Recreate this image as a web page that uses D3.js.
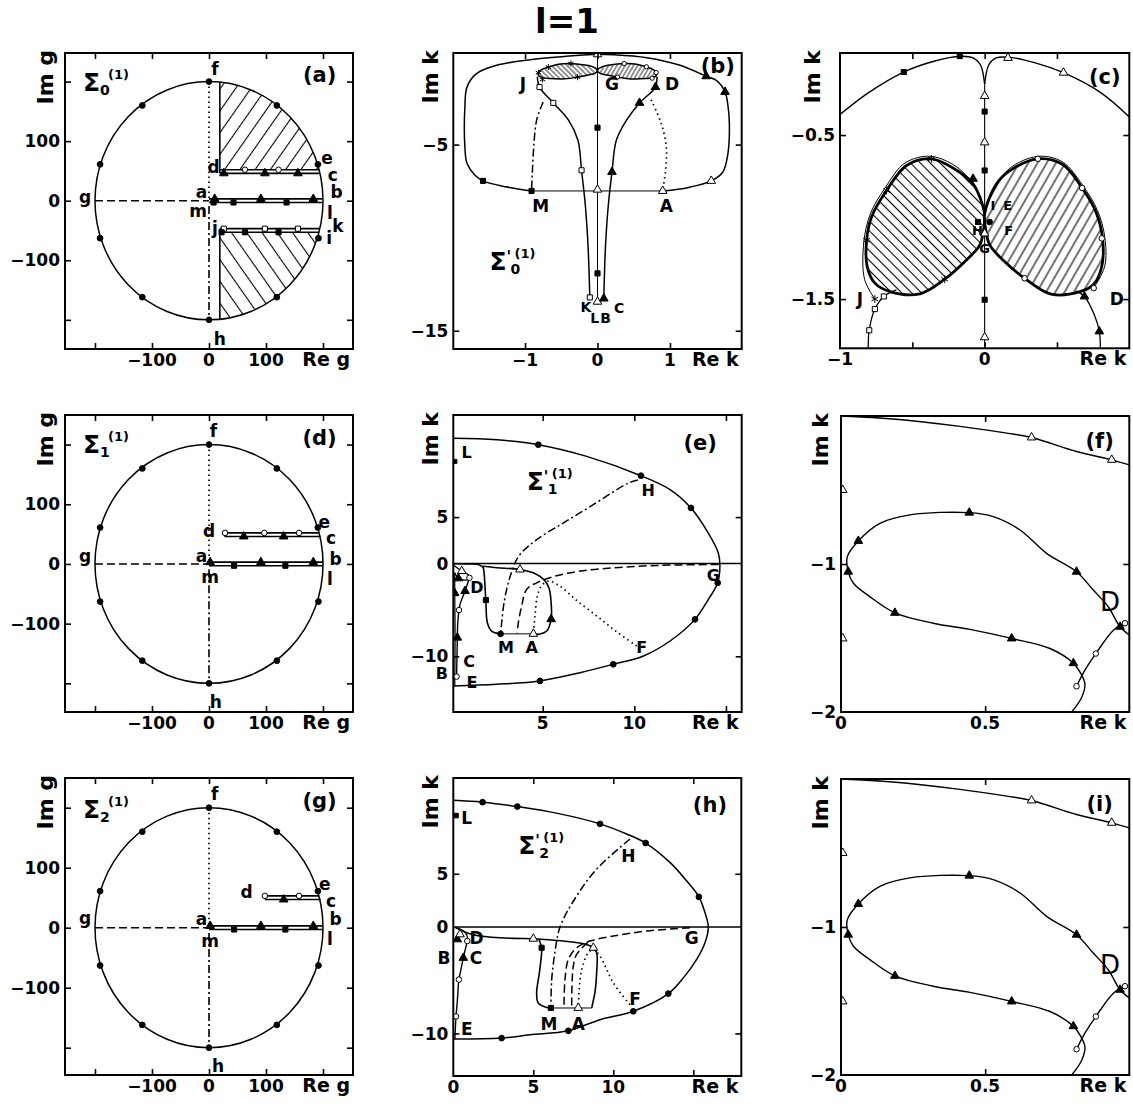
<!DOCTYPE html>
<html>
<head>
<meta charset="utf-8">
<script src="https://cdn.jsdelivr.net/npm/d3@7"></script>
<style>
  body { margin: 0; background: #fff; }
  svg text { font-family: "DejaVu Sans", sans-serif; font-weight: bold; fill: #000; }
</style>
</head>
<body>
<script>
// ================= data =================
const titleText = "l=1";

// ---- complex g-plane (panels a, d, g) ----
const gTicks = [-200, -100, 0, 100, 200];
const gTickLabels = [-100, 0, 100];
const gRadius = 200;
const gCircleDots = [[0, 200], [119, 160], [191, 61], [192, -63], [119, -162], [0, -200], [-117, -162], [-191, -63], [-191, 61], [-117, 160]];
const gDottedFA = [[0, 200], [0, 4]];
const gDashDotMH = [[0, -9], [0, -200]];
const gDashedGA = [[-200, 0], [0, 0]];

// panel (a): horizontal cuts
const aLineD = [[19, 52], [193, 52]];
const aLineDRings = [[63, 52], [122, 52]];
const aLineC = [[19, 46], [195, 46]];
const aLineCTris = [[26, 46], [98, 46], [156, 46]];
const aLineB = [[0, 3], [200, 3]];
const aLineBTris = [[10, 3], [91, 3], [183, 3]];
const aLineL = [[0, -3], [200, -3]];
const aLineLSquares = [[8, -3], [43, -3], [136, -3]];
const aLineK = [[19, -47], [194, -47]];
const aLineKOpenSq = [[26, -47], [98, -47], [156, -47]];
const aLineJ = [[19, -53], [193, -53]];
const aLineJSquares = [[22, -53], [63, -53], [122, -53]];
const aHatchEdgeUp = [[19, 199], [19, 46]];
const aHatchEdgeDown = [[19, -47], [19, -199]];
const aHatchUpperCorner = [19, 52];
const aHatchLowerCorner = [19, -53];
const aLabels = [["f", 10.5, 210.6], ["g", -217.5, -4.5], ["h", 19, -243], ["a", -13, 3.9], ["d", 8, 47],
  ["m", -19, -28], ["j", 10.5, -56.6], ["e", 207, 62], ["c", 217, 33], ["b", 224, 4],
  ["l", 212, -30], ["k", 226, -53.3], ["i", 211, -73]];

// panel (d)
const dLineD = [[27, 52], [193, 52]];
const dLineDRings = [[28, 52], [97, 52], [158, 52]];
const dLineC = [[27, 46], [196, 46]];
const dLineCTris = [[61, 46], [131, 46]];
const dLineB = [[0, 3], [200, 3]];
const dLineBTris = [[2, 3], [91, 3], [183, 3]];
const dLineL = [[0, -3], [200, -3]];
const dLineLSquares = [[44, -3], [134, -3]];
const dLabels = [["f", 8, 213], ["g", -217.5, 3.4], ["h", 12, -241], ["a", -13, 3.9], ["m", 2, -32],
  ["d", 0, 45.7], ["e", 202, 60], ["c", 214, 33], ["b", 222, -2], ["l", 212, -35]];

// panel (g)
const gpLineD = [[98, 53], [193, 53]];
const gpLineDRings = [[98, 53], [158, 53]];
const gpLineC = [[98, 47], [196, 47]];
const gpLineCTris = [[131, 47]];
const gpLineB = [[0, 3], [200, 3]];
const gpLineBTris = [[2, 3], [91, 3], [183, 3]];
const gpLineL = [[0, -3], [200, -3]];
const gpLineLSquares = [[44, -3], [134, -3]];
const gpLabels = [["f", 10, 213], ["g", -217.5, 6], ["h", 16, -240], ["a", -13, 4.5], ["m", 2, -31.7],
  ["d", 66, 49], ["e", 203, 63], ["c", 214, 35], ["b", 222, 4.5], ["l", 212, -28]];

// ---- panel (b): k-plane, Sigma'_0 ----
const bTicksX = [-1, 0, 1], bLabelsX = [-1, 0, 1];
const bTicksY = [-5, -15], bLabelsY = [-5, -15];
const bOuterRight = [[0, -0.15], [0.22, -0.17], [0.68, -0.33], [1.14, -0.74], [1.50, -1.33], [1.64, -1.55], [1.76, -2.17],
  [1.80, -2.9], [1.82, -3.87], [1.80, -5.48], [1.73, -6.47], [1.57, -6.95], [1.26, -7.3], [0.9, -7.49]];
const bOuterBase = [[0.9, -7.49], [-0.91, -7.49]];
const bOuterLeft = [[-0.91, -7.49], [-1.26, -7.27], [-1.58, -6.95], [-1.69, -6.65], [-1.80, -6.02], [-1.83, -5.13],
  [-1.83, -2.98], [-1.80, -1.9], [-1.67, -1.19], [-1.39, -0.74], [-0.93, -0.44], [-0.43, -0.26], [0, -0.15]];
const bOuterSquares = [[-1.58, -6.95], [-0.91, -7.49]];
const bOuterOpenTris = [[0.9, -7.49], [1.57, -6.95]];
const bOuterTris = [[1.76, -2.17], [1.50, -1.33]];
const bAxisLine = [[0, 0], [0, -13.6]];
const bAxisOpenTris = [[0, -0.15], [0, -7.42], [0, -13.44]];
const bAxisSquares = [[0, -4.09], [0, -11.92]];
const bFunnelRight = [[0.82, -1.35], [0.80, -1.91], [0.58, -2.76], [0.40, -3.69], [0.26, -4.77], [0.20, -6.47], [0.147, -8.35], [0.11, -10.49], [0.087, -13.27]];
const bFunnelRightTris = [[0.80, -1.91], [0.58, -2.76], [0.20, -6.47], [0.087, -13.27]];
const bFunnelLeft = [[-0.83, -1.35], [-0.80, -1.91], [-0.61, -2.76], [-0.40, -3.69], [-0.27, -4.77], [-0.22, -6.38], [-0.166, -8.35], [-0.13, -10.49], [-0.106, -13.21]];
const bFunnelLeftOpenSq = [[-0.80, -1.91], [-0.61, -2.76], [-0.22, -6.38], [-0.106, -13.21]];
const bDottedDA = [[0.74, -2.6], [0.88, -3.87], [0.95, -5.13], [0.94, -6.38], [0.9, -7.45]];
const bDashDotJM = [[-0.75, -2.71], [-0.84, -3.69], [-0.88, -5.13], [-0.9, -6.56], [-0.91, -7.45]];
const bLabels = [["J", -1.03, -2.09], ["G", 0.2, -2.09], ["D", 1.03, -2.09], ["M", -0.785, -8.62], ["A", 0.95, -8.62]];
const bLabelsBottom = [["K", -0.16, -13.99], ["L", -0.04, -14.6], ["B", 0.11, -14.6], ["C", 0.3, -14.07]];

// ---- panel (c): enlarged top of Sigma'_0 ----
const cTicksX = [-0.5, 0, 0.5], cLabelsX = [-1, 0];
const cTicksY = [-0.5, -1.5], cLabelsY = [-0.5, -1.5];
const cTopLeft = [[-1, -0.375], [-0.8, -0.24], [-0.56, -0.116], [-0.35, -0.05], [-0.17, -0.02], [-0.08, -0.03], [-0.03, -0.07], [0, -0.19]];
const cTopRight = [[0, -0.19], [0.03, -0.07], [0.08, -0.03], [0.16, -0.025], [0.35, -0.06], [0.545, -0.12], [0.8, -0.24], [1, -0.39]];
const cTopSquares = [[-0.559, -0.116], [-0.172, -0.019]];
const cTopOpenTris = [[0.161, -0.03], [0.545, -0.12]];
const cAxisLine = [[0, -0.19], [0, -1.8]];
const cAxisOpenTris = [[0, -0.262], [0, -0.545], [0, -1.733]];
const cAxisSquares = [[0, -0.357], [0, -0.716], [0, -1.504]];
const cLobeLeft = [[0, -0.98], [-0.08, -0.797], [-0.172, -0.727], [-0.368, -0.645], [-0.54, -0.686], [-0.678, -0.838],
  [-0.782, -0.999], [-0.816, -1.141], [-0.812, -1.302], [-0.759, -1.403], [-0.655, -1.454], [-0.448, -1.468],
  [-0.276, -1.379], [-0.126, -1.262], [-0.034, -1.171], [-0.008, -1.08]];
const cLobeRight = [[0, -0.98], [0.08, -0.8], [0.17, -0.72], [0.368, -0.645], [0.54, -0.68], [0.674, -0.823],
  [0.77, -0.97], [0.815, -1.13], [0.81, -1.3], [0.754, -1.41], [0.66, -1.455], [0.46, -1.47],
  [0.276, -1.373], [0.13, -1.265], [0.035, -1.17], [0.008, -1.08]];
const cLobeLeftOuter = [[-0.759, -1.5], [-0.83, -1.38], [-0.835, -1.15], [-0.79, -0.98], [-0.69, -0.825], [-0.55, -0.67], [-0.37, -0.63], [-0.17, -0.71], [-0.05, -0.85], [0, -0.98]];
const cLobeRightOuter = [[0.754, -1.433], [0.83, -1.3], [0.83, -1.12], [0.78, -0.96], [0.68, -0.81], [0.54, -0.665], [0.37, -0.63], [0.17, -0.705], [0.05, -0.85], [0, -0.98]];
const cLobeLeftStars = [[-0.368, -0.645], [-0.678, -0.838], [-0.816, -1.141], [-0.276, -1.379], [-0.759, -1.5]];
const cLobeLeftTris = [[-0.08, -0.767]];
const cLobeRightRings = [[0.368, -0.645], [0.674, -0.823], [0.81, -1.13], [0.276, -1.373], [0.754, -1.433]];
const cFunnelLeft = [[-0.61, -1.444], [-0.697, -1.484], [-0.759, -1.561], [-0.798, -1.69], [-0.805, -1.8]];
const cFunnelLeftOpenSq = [[-0.697, -1.484], [-0.759, -1.561], [-0.798, -1.69]];
const cFunnelRight = [[0.63, -1.45], [0.69, -1.484], [0.76, -1.6], [0.793, -1.697], [0.8, -1.8]];
const cFunnelRightTris = [[0.69, -1.484], [0.793, -1.697]];
const cCenterSquares = [[-0.046, -1.03]];
const cCenterDots = [[0.034, -1.03]];
const cCenterOpenTris = [[0, -1.1]];
const cLabelsSmall = [["I", 0.057, -0.959], ["E", 0.159, -0.959], ["H", -0.05, -1.11], ["F", 0.166, -1.11], ["G", 0, -1.22]];
const cLabelsBig = [["J", -0.862, -1.534], ["D", 0.914, -1.534]];

// ---- panel (e): Sigma'_1 ----
const eTicksX = [5, 10, 15], eLabelsX = [5, 10];
const eTicksY = [5, -10], eLabelsY = [5, 0, -10];
const eOuter = [[0.05, 13.5], [2.49, 13.33], [4.76, 12.8], [7.4, 11.54], [10.36, 9.46], [11.95, 7.96], [13.09, 5.99],
  [14.03, 3.3], [14.58, 1.15], [14.67, -0.11], [14.55, -2.08], [14.04, -3.87], [13.31, -6.02], [11.95, -8.35],
  [10.5, -9.96], [8.85, -10.86], [7.04, -11.76], [4.85, -12.65], [2.49, -13.01], [0.05, -13.19]];
const eOuterDots = [[4.76, 12.8], [10.36, 9.46], [13.09, 5.99], [14.55, -2.08], [13.31, -6.02], [8.85, -10.86], [4.85, -12.65]];
const eZero = [[0, 0], [16, 0]];
const eDashDotHM = [[10.2, 9.0], [9.67, 8.67], [7.76, 6.34], [6.13, 4.37], [4.67, 2.58], [3.76, 0.97], [3.49, 0.07],
  [3.12, -2.08], [2.89, -4.23], [2.76, -6.38], [2.70, -7.46]];
const eDashedG = [[14.6, -0.1], [12.5, -0.15], [10.68, -0.25], [8.85, -0.47], [7.04, -0.82], [5.6, -1.4], [4.67, -2.08],
  [4.12, -2.8], [3.85, -4.59], [3.67, -6.38], [3.61, -7.46]];
const eDottedFA = [[10.13, -8.89], [9.0, -7.3], [7.95, -5.66], [6.8, -3.9], [5.95, -2.44], [5.31, -1.9], [4.9, -2.5],
  [4.7, -3.6], [4.58, -5.66], [4.49, -7.5]];
const eBoxLeft = [[0.1, -0.02], [1.0, -0.05], [1.55, -0.15], [1.74, -0.4], [1.8, -1.0], [1.85, -2.44], [1.9, -4.23],
  [1.98, -6.38], [2.21, -7.28], [2.7, -7.58]];
const eBoxBase = [[2.7, -7.58], [4.49, -7.58]];
const eBoxRight = [[4.49, -7.58], [4.85, -7.6], [5.22, -7.28], [5.46, -6.0], [5.46, -4.23], [5.35, -2.7], [5.1, -1.8],
  [4.6, -1.1], [3.76, -0.65], [2.5, -0.45], [1.74, -0.3]];
const eBoxDots = [[2.7, -7.58]];
const eBoxOpenTris = [[4.49, -7.58], [3.76, -0.65]];
const eBoxTris = [[5.46, -6.0]];
const eBoxSquares = [[1.9, -3.94]];
const eLeftCurve = [[1.0, -1.54], [0.76, -2.97], [0.5, -4.3], [0.43, -5.02], [0.36, -6.5], [0.34, -7.99], [0.32, -10], [0.3, -12.18]];
const eLeftRings = [[1.0, -1.54], [0.43, -5.02], [0.3, -12.18]];
const eLeftTris = [[0.76, -2.97], [0.34, -7.99], [0.2, -3.2]];
const eSmallLoop = [[0.15, -0.2], [0.58, -0.82], [0.95, -1.25], [0.9, -1.75], [0.4, -1.6], [0.2, -1.0]];
const eSmallLoopOpenTris = [[0.58, -0.82]];
const eSmallLoopTris = [[0.4, -1.6]];
const eLeftEdge = [[0.2, -1.0], [0.2, -3.2], [0.22, -8], [0.2, -13.19]];
const eLMark = [[0.21, 11.0]];
const eLabels = [["L", 0.85, 11.37], ["H", 10.76, 7.24], ["G", 14.31, -1.9], ["F", 10.4, -9.6], ["M", 3.0, -9.6],
  ["A", 4.4, -9.6], ["D", 1.41, -3.15], ["C", 0.98, -11.2], ["B", -0.51, -12.47], ["E", 1.14, -13.4]];

// ---- panel (h): Sigma'_2 ----
const hTicksX = [5, 10, 15], hLabelsX = [0, 5, 10];
const hTicksY = [5, -10], hLabelsY = [5, 0, -10];
const hOuter = [[0, 11.9], [1.83, 11.73], [4.0, 11.32], [6.67, 10.63], [9.17, 9.69], [10.83, 8.74], [12.02, 7.89],
  [13.54, 6.07], [14.58, 4.34], [15.35, 2.83], [15.73, 1.35], [15.94, 0], [15.73, -1.48], [15.21, -3.05],
  [14.38, -4.78], [13.44, -6.26], [11.25, -7.92], [9.17, -8.71], [7.19, -9.75], [4.79, -10.13], [3.02, -10.44], [0, -10.53]];
const hOuterDots = [[1.83, 11.73], [4.0, 11.32], [9.17, 9.69], [12.02, 7.89], [15.35, 2.83], [13.44, -6.26], [11.25, -7.92], [7.19, -9.75], [3.02, -10.44]];
const hZero = [[0, 0], [18, 0]];
const hDashDotHM = [[11.04, 8.27], [8.96, 5.44], [7.71, 2.92], [6.67, 0], [6.35, -2.42], [6.15, -4.94], [6.1, -7.45]];
const hDashedG = [[14.79, -0.06], [12.08, -0.38], [10.0, -0.85], [8.54, -1.32], [7.71, -1.95], [7.19, -3.05], [6.98, -4.94], [6.92, -7.45]];
const hDashedInner = [[8.4, -1.45], [7.7, -2.6], [7.5, -3.68], [7.42, -5.5], [7.4, -7.45]];
const hDottedFA = [[11.04, -7.3], [10, -5.25], [9.17, -2.74], [8.75, -2.1], [8.4, -2.5], [8.1, -3.6], [7.92, -4.94], [7.81, -7.6]];
const hBoxTopRight = [[0.2, -0.1], [0.83, -0.53], [1.67, -0.85], [3.75, -1.07], [5, -1.1], [6.88, -1.32], [8.33, -1.64],
  [8.75, -1.95], [8.96, -2.42], [8.96, -4.31], [8.85, -6.19], [8.65, -7.61]];
const hBoxBase = [[8.65, -7.61], [5.94, -7.61]];
const hBoxLeft = [[5.94, -7.61], [5.31, -7.14], [5.21, -6.19], [5.38, -4.31], [5.52, -2.42], [5.52, -1.95], [5.35, -1.15]];
const hBoxOpenTris = [[5, -1.1], [8.75, -1.95], [7.81, -7.6]];
const hBoxSquares = [[5.52, -1.95], [6.1, -7.61]];
const hLeftCurve = [[0.875, -1.32], [0.625, -2.9], [0.45, -4.2], [0.35, -4.94], [0.25, -7], [0.17, -8.4], [0.1, -10.5]];
const hLeftRings = [[0.875, -1.32], [0.35, -4.94], [0.17, -8.4]];
const hLeftTris = [[0.625, -2.9], [0.25, -1.16]];
const hSmallLoop = [[0.1, -0.05], [0.5, -0.25], [0.85, -0.75], [0.875, -1.32]];
const hSmallOpenTris = [[0.42, -0.69]];
const hLMark = [[0.17, 10.47]];
const hLabels = [["L", 0.84, 9.69], ["H", 10.94, 6.07], ["G", 14.9, -1.63], ["F", 11.36, -7.29], ["M", 5.98, -9.65],
  ["A", 7.81, -9.65], ["D", 1.46, -1.63], ["B", -0.58, -3.52], ["C", 1.42, -3.52], ["E", 0.84, -10.12]];

// ---- panels (f) and (i): enlarged region near D ----
const fTicksX = [0.5], fLabelsX = [0, 0.5];
const fTicksY = [-1], fLabelsY = [-1, -2];
const fTop = [[0, 0], [0.18, -0.02], [0.413, -0.07], [0.575, -0.116], [0.661, -0.145], [0.817, -0.24], [0.939, -0.296], [1.0, -0.33]];
const fTopOpenTris = [[0.661, -0.145], [0.939, -0.296]];
const fLoop = [[0.8, -2.0], [0.835, -1.9], [0.846, -1.81], [0.829, -1.73], [0.806, -1.67], [0.725, -1.571], [0.592, -1.503],
  [0.447, -1.442], [0.32, -1.40], [0.187, -1.33], [0.1, -1.22], [0.043, -1.13], [0.025, -1.052], [0.022, -0.95],
  [0.06, -0.844], [0.135, -0.725], [0.239, -0.668], [0.445, -0.653], [0.528, -0.68], [0.621, -0.77], [0.713, -0.928],
  [0.817, -1.052], [0.875, -1.176], [0.927, -1.289], [0.968, -1.424], [1.0, -1.48]];
const fLoopTris = [[0.806, -1.67], [0.592, -1.503], [0.187, -1.33], [0.025, -1.052], [0.06, -0.844], [0.445, -0.653], [0.817, -1.052], [0.968, -1.424]];
const fRingCurve = [[0.985, -1.40], [0.945, -1.447], [0.884, -1.605], [0.846, -1.717], [0.817, -1.826]];
const fRings = [[0.985, -1.40], [0.884, -1.605], [0.817, -1.826]];
const fEdgeOpenTris = [[0.006, -0.5], [0.006, -1.503]];

// ================= drawing =================
const W = 1133, H = 1106;
const svg = d3.select("body").append("svg").attr("width", W).attr("height", H);
const defs = svg.append("defs");

const DASH = { dotted: "1.5,3.5", dashed: "8,4", dashdot: "8,3,2,3" };

function hatch(id, spacing, angle, sw) {
  const p = defs.append("pattern").attr("id", id).attr("patternUnits", "userSpaceOnUse")
    .attr("width", spacing).attr("height", spacing).attr("patternTransform", `rotate(${angle})`);
  p.append("rect").attr("width", spacing).attr("height", spacing).attr("fill", "#fff");
  p.append("line").attr("x1", spacing / 2).attr("y1", 0).attr("x2", spacing / 2).attr("y2", spacing)
    .attr("stroke", "#000").attr("stroke-width", sw);
}
hatch("hatchUp", 12.5, 35, 1.1);
hatch("hatchDown", 12.5, -35, 1.1);
hatch("lobeL", 7, -45, 1.1);
hatch("lobeR", 8, 30, 1.1);
hatch("lobeLs", 3.6, -45, 0.8);
hatch("lobeRs", 3.6, 30, 0.8);

function panel(id, box, xd, yd) {
  const x = d3.scaleLinear().domain(xd).range([box.left, box.left + box.w]);
  const y = d3.scaleLinear().domain(yd).range([box.top + box.h, box.top]);
  const g = svg.append("g").attr("class", "panel-" + id);
  defs.append("clipPath").attr("id", "clip-" + id).append("rect")
    .attr("x", box.left).attr("y", box.top).attr("width", box.w).attr("height", box.h);
  const plot = g.append("g").attr("clip-path", `url(#clip-${id})`);
  return { id, box, x, y, g, plot };
}

function curve(p, pts, opt = {}) {
  const c = opt.straight ? d3.curveLinear : (opt.closed ? d3.curveCatmullRomClosed.alpha(0.5) : d3.curveCatmullRom.alpha(0.5));
  const line = d3.line().x(d => p.x(d[0])).y(d => p.y(d[1])).curve(c);
  return (opt.layer || p.plot).append("path").attr("d", line(pts))
    .attr("fill", opt.fill || "none").attr("stroke", "#000")
    .attr("stroke-width", opt.width || 1.4)
    .attr("stroke-dasharray", opt.dash ? DASH[opt.dash] : null)
    .attr("stroke-linejoin", "round");
}

const SYM = {
  dot: [d3.symbolCircle, 26, "#000"],
  ring: [d3.symbolCircle, 24, "#fff"],
  tri: [d3.symbolTriangle, 32, "#000"],
  otri: [d3.symbolTriangle, 32, "#fff"],
  sq: [d3.symbolSquare, 26, "#000"],
  osq: [d3.symbolSquare, 26, "#fff"],
  star: [d3.symbolAsterisk || d3.symbolCross, 42, "none"]
};
function marks(p, pts, kind, k = 1) {
  const [type, size, fill] = SYM[kind];
  p.plot.append("g").selectAll("path").data(pts).join("path")
    .attr("transform", d => `translate(${p.x(d[0])},${p.y(d[1])})`)
    .attr("d", d3.symbol(type, size * k))
    .attr("fill", fill).attr("stroke", "#000").attr("stroke-width", 1);
}

function labels(p, arr, size, weight = "bold") {
  p.g.append("g").selectAll("text").data(arr).join("text")
    .attr("x", d => p.x(d[1])).attr("y", d => p.y(d[2]))
    .attr("text-anchor", "middle").style("font-size", size + "px").style("font-weight", weight)
    .text(d => d[0]);
}

const fmt = v => String(v).replace("-", "\u2212");

function axes(p, tx, lx, ty, ly, xName, yName, yNameOff) {
  const { x, y, g, box } = p;
  const bottom = box.top + box.h, right = box.left + box.w;
  const mk = (axis, tr, vals) => g.append("g").attr("transform", tr)
    .call(axis.tickValues(vals).tickSizeInner(-6).tickSizeOuter(0).tickFormat(""))
    .call(s => s.select(".domain").remove())
    .call(s => s.selectAll("line").attr("stroke", "#000").attr("stroke-width", 1.6));
  mk(d3.axisBottom(x), `translate(0,${bottom})`, tx);
  mk(d3.axisTop(x), `translate(0,${box.top})`, tx);
  mk(d3.axisLeft(y), `translate(${box.left},0)`, ty);
  mk(d3.axisRight(y), `translate(${right},0)`, ty);
  g.append("g").selectAll("text").data(lx).join("text")
    .attr("x", d => x(d)).attr("y", bottom + 17).attr("text-anchor", "middle")
    .style("font-size", "17px").text(fmt);
  g.append("g").selectAll("text").data(ly).join("text")
    .attr("x", box.left - 5).attr("y", d => y(d)).attr("dy", "0.36em").attr("text-anchor", "end")
    .style("font-size", "17px").text(fmt);
  g.append("text").attr("x", right - 3).attr("y", bottom + 17).attr("text-anchor", "end")
    .style("font-size", "19px").text(xName);
  g.append("text").attr("transform", `translate(${box.left - yNameOff},${box.top - 3}) rotate(-90)`)
    .attr("text-anchor", "end").style("font-size", "22px").text(yName);
}

function frame(p) {
  p.g.append("rect").attr("x", p.box.left).attr("y", p.box.top).attr("width", p.box.w).attr("height", p.box.h)
    .attr("fill", "none").attr("stroke", "#000").attr("stroke-width", 2);
}

function tag(p, text, xv, yv) {
  p.g.append("text").attr("x", p.x(xv)).attr("y", p.y(yv)).attr("text-anchor", "middle")
    .style("font-size", "21px").text(text);
}

function sigma(p, xv, yv, sub, prime) {
  const X = p.x(xv), Y = p.y(yv);
  const t = p.g.append("g");
  t.append("text").attr("x", X).attr("y", Y).style("font-size", "25px").text("\u03A3");
  let off = 17;
  if (prime) {
    t.append("text").attr("x", X + 17).attr("y", Y - 8).style("font-size", "15px").text("'");
    off = 21;
  }
  t.append("text").attr("x", X + off).attr("y", Y + 4).style("font-size", "14px").text(sub);
  t.append("text").attr("x", X + off + (prime ? 4 : 8)).attr("y", Y - 12).style("font-size", "13px").text("(1)");
}

// ---- title ----
svg.append("text").attr("x", 567).attr("y", 33).attr("text-anchor", "middle")
  .style("font-size", "34px").style("font-weight", "bold").text(titleText);

// ---- g-plane panels ----
function gPanel(id, box, yd, lines, lbls, sigSub, sigY, hatched) {
  const p = panel(id, box, [-252.6, 252.6], yd);
  const cx = p.x(0), cy = p.y(0), rx = p.x(gRadius) - p.x(0), ry = p.y(0) - p.y(gRadius);
  if (hatched) {
    defs.append("clipPath").attr("id", "disk-" + id).append("ellipse")
      .attr("cx", cx).attr("cy", cy).attr("rx", rx).attr("ry", ry);
    const hg = p.plot.append("g").attr("clip-path", `url(#disk-${id})`);
    hg.append("rect").attr("x", p.x(aHatchUpperCorner[0])).attr("y", p.y(gRadius))
      .attr("width", p.x(gRadius) - p.x(aHatchUpperCorner[0])).attr("height", p.y(aHatchUpperCorner[1]) - p.y(gRadius))
      .attr("fill", "url(#hatchUp)");
    hg.append("rect").attr("x", p.x(aHatchLowerCorner[0])).attr("y", p.y(aHatchLowerCorner[1]))
      .attr("width", p.x(gRadius) - p.x(aHatchLowerCorner[0])).attr("height", p.y(-gRadius) - p.y(aHatchLowerCorner[1]))
      .attr("fill", "url(#hatchDown)");
    curve(p, aHatchEdgeUp, { straight: true, width: 1.6 });
    curve(p, aHatchEdgeDown, { straight: true, width: 1.6 });
  }
  p.plot.append("ellipse").attr("cx", cx).attr("cy", cy).attr("rx", rx).attr("ry", ry)
    .attr("fill", "none").attr("stroke", "#000").attr("stroke-width", 1.5);
  curve(p, gDottedFA, { straight: true, dash: "dotted", width: 1.7 });
  curve(p, gDashDotMH, { straight: true, dash: "dashdot", width: 1.6 });
  curve(p, gDashedGA, { straight: true, dash: "dashed", width: 1.4 });
  lines.forEach(l => {
    curve(p, l.path, { straight: true, width: 1.7 });
    marks(p, l.pts, l.kind);
  });
  marks(p, gCircleDots, "dot");
  labels(p, lbls, 17);
  sigma(p, -221, sigY, sigSub, false);
  axes(p, gTicks, gTickLabels, gTicks, gTickLabels, "Re g", "Im g", 12);
  frame(p);
  return p;
}

const pa = gPanel("a", { left: 65, top: 53, w: 288, h: 296 }, [-249, 248], [
  { path: aLineD, pts: aLineDRings, kind: "ring" },
  { path: aLineC, pts: aLineCTris, kind: "tri" },
  { path: aLineB, pts: aLineBTris, kind: "tri" },
  { path: aLineL, pts: aLineLSquares, kind: "sq" },
  { path: aLineK, pts: aLineKOpenSq, kind: "osq" },
  { path: aLineJ, pts: aLineJSquares, kind: "sq" }
], aLabels, "0", 185, true);
tag(pa, "(a)", 194, 200);

const pd = gPanel("d", { left: 65, top: 415, w: 288, h: 297 }, [-248, 249.5], [
  { path: dLineD, pts: dLineDRings, kind: "ring" },
  { path: dLineC, pts: dLineCTris, kind: "tri" },
  { path: dLineB, pts: dLineBTris, kind: "tri" },
  { path: dLineL, pts: dLineLSquares, kind: "sq" }
], dLabels, "1", 186, false);
tag(pd, "(d)", 194, 200);

const pg = gPanel("g", { left: 65, top: 778, w: 288, h: 297 }, [-245.5, 249.5], [
  { path: gpLineD, pts: gpLineDRings, kind: "ring" },
  { path: gpLineC, pts: gpLineCTris, kind: "tri" },
  { path: gpLineB, pts: gpLineBTris, kind: "tri" },
  { path: gpLineL, pts: gpLineLSquares, kind: "sq" }
], gpLabels, "2", 183, false);
tag(pg, "(g)", 194, 200);

// ---- panel (b) ----
const pb = panel("b", { left: 453.3, top: 53, w: 288.4, h: 296 }, [-1.99, 1.99], [-15.98, -0.08]);
curve(pb, cLobeLeft, { closed: true, fill: "url(#lobeLs)", width: 1.5 });
curve(pb, cLobeRight, { closed: true, fill: "url(#lobeRs)", width: 1.5 });
curve(pb, bOuterRight, { width: 1.5 });
curve(pb, bOuterBase, { straight: true, width: 1 });
curve(pb, bOuterLeft, { width: 1.5 });
curve(pb, bAxisLine, { straight: true, width: 1 });
curve(pb, bFunnelRight, { width: 1.5 });
curve(pb, bFunnelLeft, { width: 1.5 });
curve(pb, bDottedDA, { dash: "dotted", width: 1.7 });
curve(pb, bDashDotJM, { dash: "dashdot", width: 1.5 });
marks(pb, cLobeLeftStars, "star", 0.6);
marks(pb, cLobeRightRings, "ring", 0.6);
marks(pb, bOuterSquares, "sq");
marks(pb, bOuterOpenTris, "otri");
marks(pb, bOuterTris, "tri");
marks(pb, bAxisOpenTris, "otri");
marks(pb, bAxisSquares, "sq");
marks(pb, bFunnelRightTris, "tri");
marks(pb, bFunnelLeftOpenSq, "osq");
labels(pb, bLabels, 17);
labels(pb, bLabelsBottom, 14);
sigma(pb, -1.49, -11.75, "0", true);
tag(pb, "(b)", 1.66, -1.17);
axes(pb, bTicksX, bLabelsX, bTicksY, bLabelsY, "Re k", "Im k", 15);
frame(pb);

// ---- panel (c) ----
const pc = panel("c", { left: 840, top: 53, w: 289.3, h: 295.3 }, [-1, 1], [-1.8, 0]);
curve(pc, cLobeLeft, { closed: true, fill: "url(#lobeL)", width: 2.8 });
curve(pc, cLobeRight, { closed: true, fill: "url(#lobeR)", width: 2.8 });
curve(pc, cLobeLeftOuter, { width: 1 });
curve(pc, cLobeRightOuter, { width: 1 });
curve(pc, cTopLeft, { width: 1.4 });
curve(pc, cTopRight, { width: 1.4 });
curve(pc, cAxisLine, { straight: true, width: 1.1 });
curve(pc, cFunnelLeft, { width: 1.3 });
curve(pc, cFunnelRight, { width: 1.3 });
marks(pc, cTopSquares, "sq");
marks(pc, cTopOpenTris, "otri");
marks(pc, cAxisOpenTris, "otri");
marks(pc, cAxisSquares, "sq");
marks(pc, cLobeLeftStars, "star");
marks(pc, cLobeLeftTris, "tri");
marks(pc, cLobeRightRings, "ring");
marks(pc, cFunnelLeftOpenSq, "osq");
marks(pc, cFunnelRightTris, "tri");
marks(pc, cCenterSquares, "sq");
marks(pc, cCenterDots, "dot");
marks(pc, cCenterOpenTris, "otri");
labels(pc, cLabelsSmall, 13);
labels(pc, cLabelsBig, 17);
tag(pc, "(c)", 0.83, -0.19);
axes(pc, cTicksX, cLabelsX, cTicksY, cLabelsY, "Re k", "Im k", 20);
frame(pc);

// ---- panel (e) ----
const pe = panel("e", { left: 453.3, top: 415, w: 288.4, h: 297 }, [0.12, 15.86], [-16, 16]);
curve(pe, eOuter, { width: 1.5 });
curve(pe, eZero, { straight: true, width: 1.5 });
curve(pe, eDashDotHM, { dash: "dashdot", width: 1.5 });
curve(pe, eDashedG, { dash: "dashed", width: 1.5 });
curve(pe, eDottedFA, { dash: "dotted", width: 1.7 });
curve(pe, eBoxLeft, { width: 1.6 });
curve(pe, eBoxBase, { straight: true, width: 1 });
curve(pe, eBoxRight, { width: 1.6 });
curve(pe, eLeftCurve, { width: 1.4 });
curve(pe, eSmallLoop, { width: 1.3 });
curve(pe, eLeftEdge, { width: 1.2 });
marks(pe, eOuterDots, "dot");
marks(pe, eBoxDots, "dot");
marks(pe, eBoxOpenTris, "otri");
marks(pe, eBoxTris, "tri");
marks(pe, eBoxSquares, "sq");
marks(pe, eLeftRings, "ring");
marks(pe, eLeftTris, "tri");
marks(pe, eSmallLoopOpenTris, "otri");
marks(pe, eSmallLoopTris, "tri");
marks(pe, eLMark, "sq", 0.6);
labels(pe, eLabels, 16);
sigma(pe, 4.13, 7.96, "1", true);
tag(pe, "(e)", 13.59, 12.26);
axes(pe, eTicksX, eLabelsX, eTicksY, eLabelsY, "Re k", "Im k", 15);
frame(pe);

// ---- panel (h) ----
const ph = panel("h", { left: 453.3, top: 778, w: 288, h: 298 }, [0, 18], [-14, 14]);
curve(ph, hOuter, { width: 1.5 });
curve(ph, hZero, { straight: true, width: 1.5 });
curve(ph, hDashDotHM, { dash: "dashdot", width: 1.5 });
curve(ph, hDashedG, { dash: "dashed", width: 1.5 });
curve(ph, hDashedInner, { dash: "dashed", width: 1.5 });
curve(ph, hDottedFA, { dash: "dotted", width: 1.7 });
curve(ph, hBoxTopRight, { width: 1.6 });
curve(ph, hBoxBase, { straight: true, width: 1 });
curve(ph, hBoxLeft, { width: 1.6 });
curve(ph, hLeftCurve, { width: 1.4 });
curve(ph, hSmallLoop, { width: 1.3 });
marks(ph, hOuterDots, "dot");
marks(ph, hBoxOpenTris, "otri");
marks(ph, hBoxSquares, "sq");
marks(ph, hLeftRings, "ring");
marks(ph, hLeftTris, "tri");
marks(ph, hSmallOpenTris, "otri");
marks(ph, hLMark, "sq", 0.8);
labels(ph, hLabels, 17);
sigma(ph, 4.06, 6.86, "2", true);
tag(ph, "(h)", 16.04, 10.8);
axes(ph, hTicksX, hLabelsX, hTicksY, hLabelsY, "Re k", "Im k", 15);
frame(ph);

// ---- panels (f) and (i) ----
function zoomPanel(id, box, tagText, dY) {
  const p = panel(id, box, [0, 1], [-2, 0]);
  curve(p, fTop, { width: 1.4 });
  curve(p, fLoop, { width: 1.4 });
  curve(p, fRingCurve, { width: 1.4 });
  marks(p, fTopOpenTris, "otri");
  marks(p, fLoopTris, "tri");
  marks(p, fRings, "ring");
  marks(p, fEdgeOpenTris, "otri");
  labels(p, [["D", 0.933, dY]], 26, "normal");
  tag(p, tagText, 0.897, -0.213);
  axes(p, fTicksX, fLabelsX, fTicksY, fLabelsY, "Re k", "Im k", 13);
  frame(p);
}
zoomPanel("f", { left: 841, top: 416, w: 288.3, h: 296 }, "(f)", -1.32);
zoomPanel("i", { left: 841, top: 779, w: 288.3, h: 296 }, "(i)", -1.318);
</script>
</body>
</html>
